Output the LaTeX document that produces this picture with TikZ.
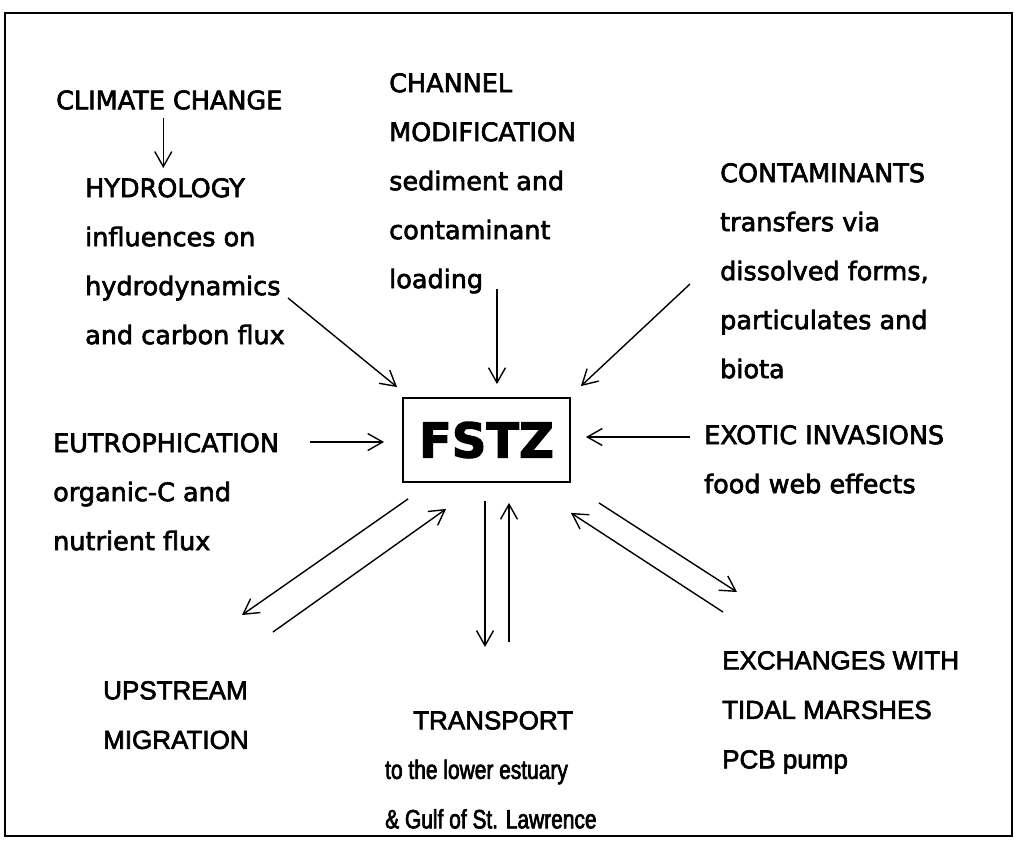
\documentclass[tikz,border=0pt]{standalone}
\usepackage{fontspec}
\setmainfont{DejaVu Sans}[FakeBold=2.5]
\newfontfamily\capfont{Liberation Sans}[FakeBold=2.5]
\newfontfamily\narrowfont{Liberation Sans}[FakeStretch=0.79, FakeBold=2.5]
\usetikzlibrary{arrows.meta, positioning}
\tikzset{
  lbl/.style={anchor=north west, inner sep=0pt, align=left,
              font=\fontsize{25.5}{49}\selectfont},
  nlbl/.style={lbl, font=\capfont\fontsize{26}{49.5}\selectfont},
  hub/.style={draw, line width=1.8pt, minimum width=167pt, minimum height=84pt,
              inner sep=0pt, font=\fontsize{48}{48}\selectfont\bfseries},
  arr/.style={-{Straight Barb[length=15pt,width=17pt,line width=1.4pt]}, line width=1.4pt},
  frame/.style={line width=2.5pt},
}
\newcommand{\lc}[1]{{\narrowfont\fontsize{26.5}{49.5}\selectfont #1}}

\begin{document}
\begin{tikzpicture}[x=1pt, y=-1pt]
  \useasboundingbox (0,0) rectangle (1017,841);
  \draw[frame] (5,13) rectangle (1012,836);

  %% Central box
  \node[hub] (fstz) at (486.5,440) {FSTZ};

  %% Drivers
  \node[lbl, anchor=west] (climate) at (56,100) {CLIMATE CHANGE};
  \node[lbl] (hydro) at (85,178) {HYDROLOGY\\influences on\\hydrodynamics\\and carbon flux};
  \node[lbl] (channel) at (389,73) {CHANNEL\\MODIFICATION\\sediment and\\contaminant\\loading};
  \node[lbl] (contam) at (720,163) {CONTAMINANTS\\transfers via\\dissolved forms,\\particulates and\\biota};
  \node[lbl] (eutro) at (53,433) {EUTROPHICATION\\organic-C and\\nutrient flux};
  \node[lbl] (exotic) at (704,425) {EXOTIC INVASIONS\\food web effects};

  %% Exchanges
  \node[nlbl] (upstream) at (103,681) {UPSTREAM\\MIGRATION};
  \node[nlbl] (transport) at (385,711) {\hspace*{28pt}TRANSPORT\\\lc{to the lower estuary}\\\lc{\& Gulf of St. Lawrence}};
  \node[nlbl] (marsh) at (722,651) {EXCHANGES WITH\\TIDAL MARSHES\\PCB pump};

  %% free ends
  \coordinate (hyd-out) at (288,298);
  \coordinate (con-out) at (690,284);
  \coordinate (eut-out) at (310,442);
  \coordinate (exo-out) at (690,437);
  \coordinate (up-tip) at (242,615);
  \coordinate (up-tail) at (273,632);
  \coordinate (tr-tip) at (485,647);
  \coordinate (tr-tail) at (509,642);
  \coordinate (ma-tip) at (737,592);
  \coordinate (ma-tail) at (723,612);

  %% Arrows in
  \draw[arr, shorten <=8pt, shorten >=10pt] ([xshift=-6pt]climate.south) -- ([xshift=-6pt]climate.south |- hydro.north);
  \draw[arr] (hyd-out) -- ([shift={(-5,-10)}]fstz.north west);
  \draw[arr] ([shift={(10.5,-108)}]fstz.north) -- ([shift={(10.5,-13)}]fstz.north);
  \draw[arr] (con-out) -- ([shift={(10,-11)}]fstz.north east);
  \draw[arr] (eut-out) -- ([shift={(-18,2)}]fstz.west);
  \draw[arr] (exo-out) -- ([shift={(15,-3)}]fstz.east);

  %% Two-way arrows
  \draw[arr] ([shift={(6,16)}]fstz.south west) -- (up-tip);
  \draw[arr] (up-tail) -- ([shift={(44,26)}]fstz.south west);
  \draw[arr] ([shift={(-1.5,18)}]fstz.south) -- (tr-tip);
  \draw[arr] (tr-tail) -- ([shift={(22.5,20)}]fstz.south);
  \draw[arr] ([shift={(28,20)}]fstz.south east) -- (ma-tip);
  \draw[arr] (ma-tail) -- ([shift={(0,30)}]fstz.south east);
\end{tikzpicture}
\end{document}
